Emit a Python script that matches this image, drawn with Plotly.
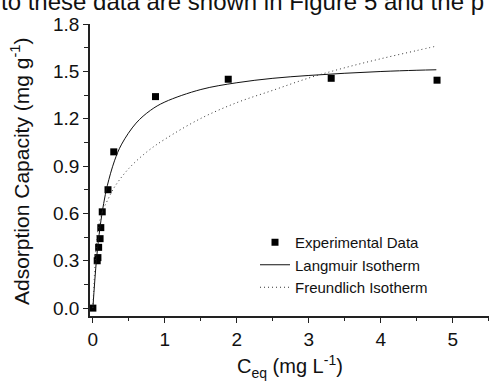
import plotly.graph_objects as go

# Experimental data
exp_c = [0.0, 0.06, 0.07, 0.08, 0.10, 0.11, 0.13, 0.21, 0.29, 0.87, 1.88, 3.31, 4.78]
exp_q = [0.00, 0.30, 0.32, 0.385, 0.44, 0.51, 0.61, 0.75, 0.99, 1.34, 1.45, 1.456, 1.444]

# Langmuir fit curve
lang_c = [0.0, 0.05, 0.1, 0.15, 0.2, 0.3, 0.4, 0.6, 0.8, 1.0, 1.5, 2.0, 2.5, 3.0, 3.5, 4.0, 4.5, 4.77]
lang_q = [0.0, 0.307, 0.514, 0.663, 0.775, 0.933, 1.039, 1.172, 1.253, 1.306, 1.385, 1.428, 1.456,
          1.474, 1.488, 1.499, 1.507, 1.510]

# Freundlich fit curve
freu_c = [0.0, 0.06, 0.1, 0.15, 0.2, 0.3, 0.5, 0.75, 1.0, 1.5, 2.0, 2.5, 3.0, 3.5, 4.0, 4.5, 4.77]
freu_q = [0.0, 0.46, 0.56, 0.632, 0.68, 0.767, 0.885, 0.99, 1.07, 1.202, 1.302, 1.38, 1.458,
          1.523, 1.58, 1.632, 1.66]

x_ticks = [0, 1, 2, 3, 4, 5]
y_ticks = [0.0, 0.3, 0.6, 0.9, 1.2, 1.5, 1.8]
y_ticklabels = ["0.0", "0.3", "0.6", "0.9", "1.2", "1.5", "1.8"]

FONT = "Arial, 'Liberation Sans', sans-serif"

fig = go.Figure()
fig.add_trace(go.Scatter(x=exp_c, y=exp_q, mode="markers", name="Experimental Data",
                         marker=dict(symbol="square", size=7, color="black")))
fig.add_trace(go.Scatter(x=lang_c, y=lang_q, mode="lines", name="Langmuir Isotherm",
                         line=dict(color="#111111", width=1, shape="spline")))
fig.add_trace(go.Scatter(x=freu_c, y=freu_q, mode="lines", name="Freundlich Isotherm",
                         line=dict(color="#333333", width=1, dash="1px,3px", shape="spline")))

L, T, B = 90, 24, 69
W, H = 489, 385
pw = W - L
ph = H - T - B

fig.update_layout(
    width=W, height=H,
    margin=dict(l=L, r=0, t=T, b=B),
    paper_bgcolor="white", plot_bgcolor="white",
    font=dict(family=FONT, color="#111111", size=19),
    showlegend=True,
    legend=dict(x=(255 - L) / pw, y=1 - (226 - T) / ph, xanchor="left", yanchor="top",
                bgcolor="rgba(0,0,0,0)", font=dict(size=15, family=FONT), tracegroupgap=0,
                itemwidth=30),
    xaxis=dict(range=[-0.04, -0.04 + pw / 72.0], showgrid=False, zeroline=False,
               showline=True, linecolor="#222222", linewidth=1.5,
               tickmode="array", tickvals=x_ticks, ticks="outside", ticklen=5,
               tickcolor="#222222", tickwidth=1.2,
               minor=dict(dtick=0.5, ticks="outside", ticklen=3, tickcolor="#222222", tickwidth=1.2),
               tickfont=dict(size=19)),
    yaxis=dict(range=[-0.05, 1.8], showgrid=False, zeroline=False,
               showline=True, linecolor="#222222", linewidth=1.5,
               tickmode="array", tickvals=y_ticks, ticktext=y_ticklabels,
               ticks="outside", ticklen=5, tickcolor="#222222", tickwidth=1.2,
               minor=dict(dtick=0.15, ticks="outside", ticklen=4, tickcolor="#222222", tickwidth=1.2),
               tickfont=dict(size=19)),
    annotations=[
        dict(text="Adsorption Capacity (mg g<sup>-1</sup>)", xref="paper", yref="paper",
             x=(20 - L) / pw, y=1 - (171 - T) / ph, xanchor="center", yanchor="middle",
             textangle=-90, showarrow=False, font=dict(size=21, family=FONT)),
        dict(text="C<sub>eq</sub> (mg L<sup>-1</sup>)", xref="paper", yref="paper",
             x=(290 - L) / pw, y=1 - (366 - T) / ph, xanchor="center", yanchor="middle",
             showarrow=False, font=dict(size=20, family=FONT)),
        dict(text="to these data are shown in Figure 5 and the p", xref="paper", yref="paper",
             x=(-1 - L) / pw, y=1 + (T - 1) / ph, xanchor="left", yanchor="middle",
             showarrow=False, font=dict(size=24, family=FONT, color="#111111")),
    ],
)

fig.write_html("out.html")
